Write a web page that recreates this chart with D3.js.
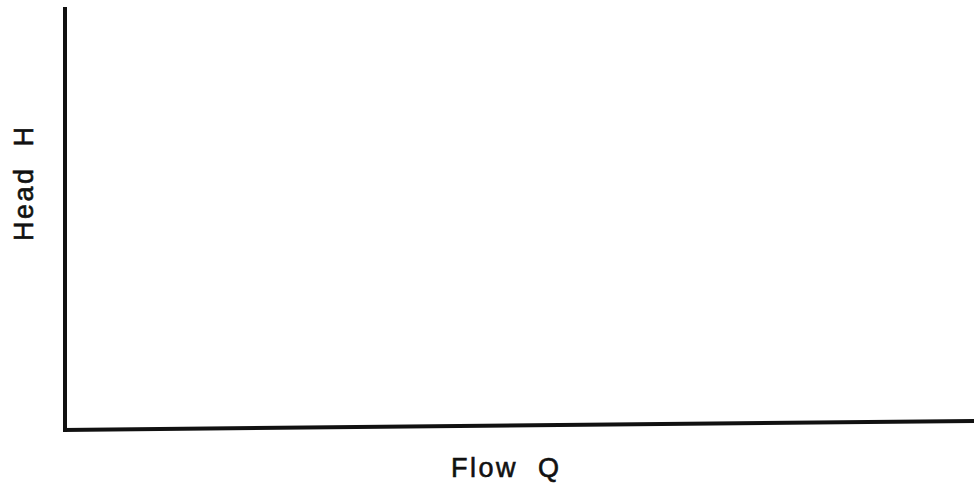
<!DOCTYPE html>
<html>
<head>
<meta charset="utf-8">
<script src="https://cdn.jsdelivr.net/npm/d3@7"></script>
<style>
  html, body { margin: 0; padding: 0; background: #fff; }
  svg { display: block; }
</style>
</head>
<body>
<svg id="chart" width="974" height="483"></svg>
<script>
const xLabel = "Flow\u00a0\u00a0Q";
const yLabel = "Head\u00a0\u00a0H";
const xDomain = [0, 1];
const yDomain = [0, 1];
const xTicks = [];
const yTicks = [];

(function () {
  const svg = d3.select("#chart");
  const mLeft = 65, mRight = 974, mTop = 7, mBottom = 430;

  const x = d3.scaleLinear().domain(xDomain).range([mLeft, mRight]);
  const y = d3.scaleLinear().domain(yDomain).range([mBottom, mTop]);

  const ink = "#111";

  // Y axis (vertical)
  svg.append("line")
    .attr("x1", x(0)).attr("x2", x(0))
    .attr("y1", y(1)).attr("y2", y(0) + 2)
    .attr("stroke", ink).attr("stroke-width", 4);

  // X axis (horizontal, slight scan tilt)
  svg.append("line")
    .attr("x1", x(0) - 2).attr("y1", y(0))
    .attr("x2", x(1)).attr("y2", y(0) - 9)
    .attr("stroke", ink).attr("stroke-width", 4);

  const labelStyle = sel => sel
    .attr("text-anchor", "start")
    .attr("font-family", "Liberation Sans, Arial, sans-serif")
    .attr("font-size", 27)
    .attr("letter-spacing", 2.5)
    .attr("fill", ink)
    .attr("stroke", ink)
    .attr("stroke-width", 0.6);

  svg.append("text")
    .attr("x", 451).attr("y", 477)
    .call(labelStyle)
    .text(xLabel);

  svg.append("text")
    .attr("transform", "translate(33,241) rotate(-90)")
    .call(labelStyle)
    .text(yLabel);
})();
</script>
</body>
</html>
